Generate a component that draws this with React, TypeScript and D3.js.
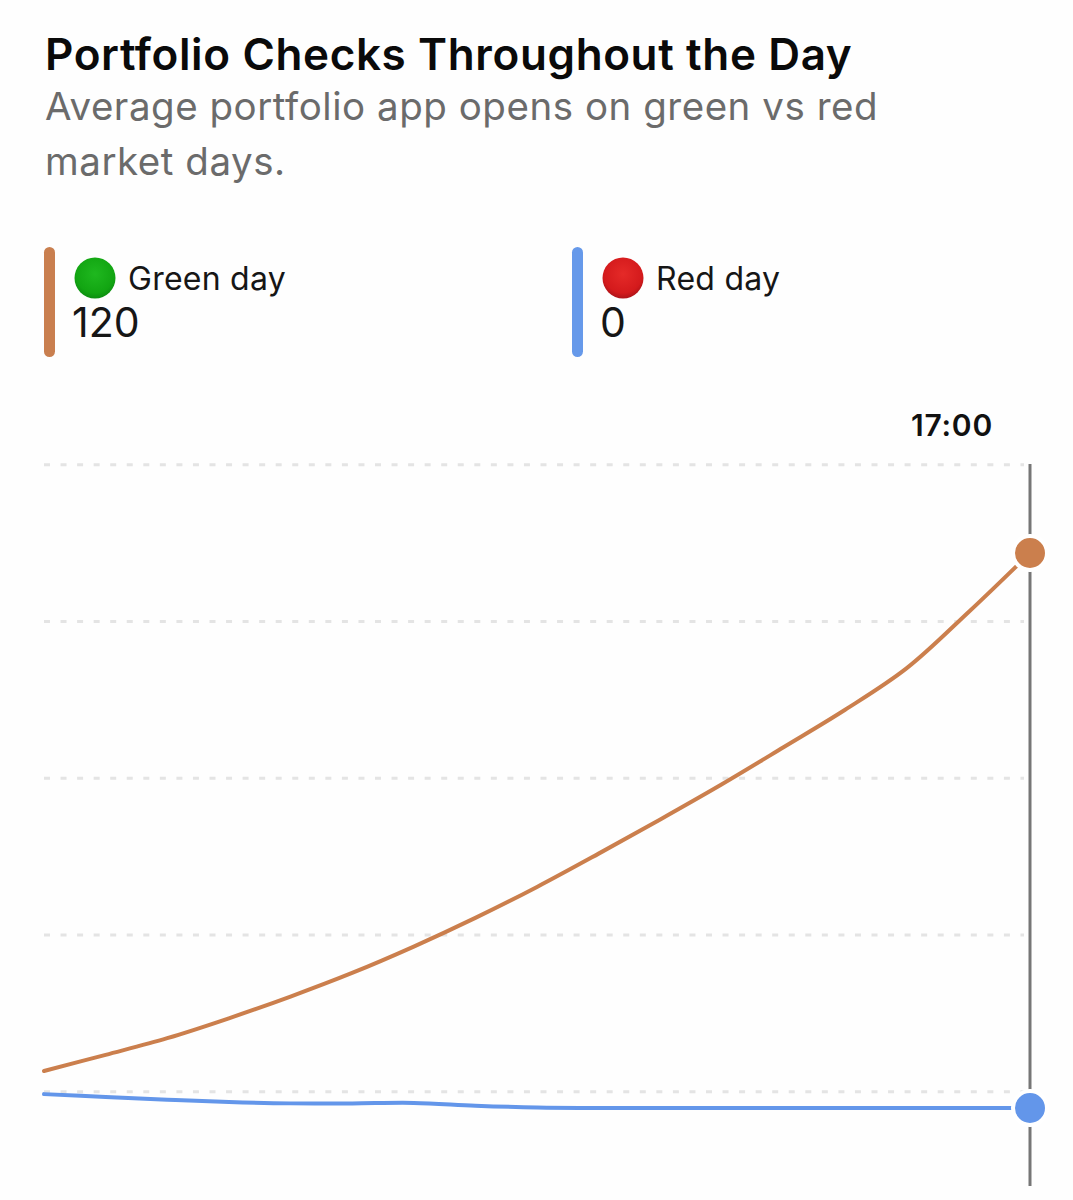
import * as d3 from "d3";
import React, { useEffect, useRef } from "react";

const hours = [9, 9.5, 10, 10.5, 11, 11.5, 12, 12.5, 13, 13.5, 14, 14.5, 15, 15.5, 16, 16.5, 17];
const greenDay = [8, 11.5, 15.1, 19.4, 24.1, 29.2, 34.9, 41.1, 47.8, 55, 62.4, 70, 78, 86.1, 95.1, 107.2, 120];
const redDay = [3, 2.4, 1.8, 1.3, 1, 1, 1.1, 0.5, 0.1, 0, 0, 0, 0, 0, 0, 0, 0];
const gridValues = [3.5, 37.4, 71.3, 105.2, 139.1];

const legendItems = [
  { label: "Green day", value: "120", bar: "#c97f4f", grad: "gGreen" },
  { label: "Red day", value: "0", bar: "#6699ea", grad: "gRed" },
];

const FONT = "Inter, Roboto, sans-serif";

const PortfolioChart: React.FC = () => {
  const ref = useRef<SVGSVGElement>(null);

  useEffect(() => {
    const svg = d3.select(ref.current);
    svg.selectAll("*").remove();

    const x = d3.scaleLinear().domain([9, 17]).range([44, 1030]);
    const y = d3.scaleLinear().domain([0, 120]).range([1108, 553]);

    const defs = svg.append("defs");
    const addGrad = (id: string, light: string, mid: string, dark: string) => {
      const g = defs.append("radialGradient").attr("id", id).attr("cx", "50%").attr("cy", "40%").attr("r", "62%");
      g.append("stop").attr("offset", "0%").attr("stop-color", light);
      g.append("stop").attr("offset", "75%").attr("stop-color", mid);
      g.append("stop").attr("offset", "100%").attr("stop-color", dark);
    };
    addGrad("gGreen", "#1fb81f", "#12a512", "#0b8a10");
    addGrad("gRed", "#e52a28", "#d41a1c", "#a81218");

    svg.append("text").attr("x", 45).attr("y", 70).attr("font-size", 44).attr("font-weight", 600)
      .attr("letter-spacing", 0.63).attr("fill", "#0a0a0a").text("Portfolio Checks Throughout the Day");
    svg.append("text").attr("x", 45).attr("y", 120).attr("font-size", 38.5).attr("letter-spacing", 0.53)
      .attr("fill", "#6b6b6b").text("Average portfolio app opens on green vs red");
    svg.append("text").attr("x", 45).attr("y", 175).attr("font-size", 38.5).attr("letter-spacing", 0.53)
      .attr("fill", "#6b6b6b").text("market days.");

    legendItems.forEach((item, i) => {
      const g = svg.append("g").attr("transform", `translate(${i * 528},0)`);
      g.append("rect").attr("x", 44).attr("y", 247).attr("width", 11).attr("height", 110).attr("rx", 5.5).attr("fill", item.bar);
      g.append("circle").attr("cx", 95).attr("cy", 278).attr("r", 20.5).attr("fill", `url(#${item.grad})`);
      g.append("text").attr("x", 128).attr("y", 290).attr("font-size", 32).attr("letter-spacing", 0.25)
        .attr("fill", "#161616").text(item.label);
      g.append("text").attr("x", 72).attr("y", 337).attr("font-size", 41).attr("fill", "#161616").text(item.value);
    });

    svg.append("text").attr("x", 993).attr("y", 436).attr("text-anchor", "end").attr("font-size", 30)
      .attr("font-weight", 600).attr("letter-spacing", 0.8).attr("fill", "#111").text("17:00");

    svg.append("g").selectAll("line").data(gridValues).enter().append("line")
      .attr("x1", x(9)).attr("x2", x(17) - 6)
      .attr("y1", (d) => y(d)).attr("y2", (d) => y(d))
      .attr("stroke", "#e4e4e4").attr("stroke-width", 3).attr("stroke-dasharray", "6 10.55");

    svg.append("line").attr("x1", x(17)).attr("x2", x(17)).attr("y1", 464).attr("y2", 1186)
      .attr("stroke", "#767676").attr("stroke-width", 3);

    const line = d3.line<number>().x((_, i) => x(hours[i])).y((d) => y(d)).curve(d3.curveCatmullRom);

    const series = [
      { values: greenDay, color: "#cb7f4d" },
      { values: redDay, color: "#6396ea" },
    ];
    series.forEach((s) => {
      svg.append("path").attr("d", line(s.values)).attr("fill", "none").attr("stroke", s.color)
        .attr("stroke-width", 4).attr("stroke-linecap", "round");
      svg.append("circle").attr("cx", x(17)).attr("cy", y(s.values[s.values.length - 1])).attr("r", 17)
        .attr("fill", s.color).attr("stroke", "#fff").attr("stroke-width", 4);
    });
  }, []);

  return (
    <svg ref={ref} width={1073} height={1200} viewBox="0 0 1073 1200"
      style={{ position: "absolute", left: 0, top: 0, background: "#fefefe", fontFamily: FONT }} />
  );
};

export default function App() {
  return <PortfolioChart />;
}
